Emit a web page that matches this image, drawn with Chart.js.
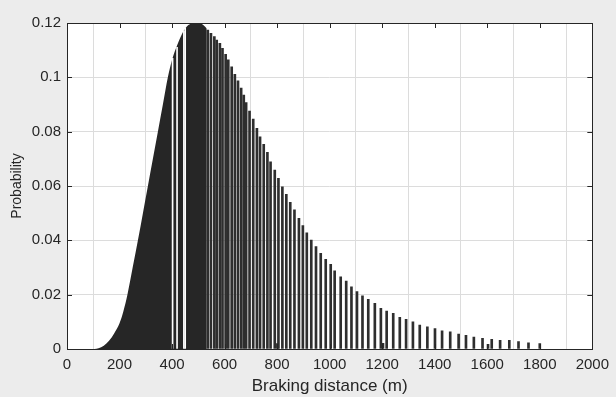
<!DOCTYPE html>
<html>
<head>
<meta charset="utf-8">
<script src="https://cdn.jsdelivr.net/npm/chart.js@4.4.1/dist/chart.umd.min.js"></script>
<style>
  html, body { margin: 0; padding: 0; background: #ececec; }
</style>
</head>
<body>
<canvas id="chart" width="616" height="397"></canvas>
<script>
const xTicks = [0, 200, 400, 600, 800, 1000, 1200, 1400, 1600, 1800, 2000]
const yTicks = [0, 0.02, 0.04, 0.06, 0.08, 0.1, 0.12]

// the solid black block on the left (outline of its top)
const denseDistance = [105, 120, 140, 160, 180, 200, 215, 230, 250, 270, 289, 308, 327, 346, 365, 384, 400, 415, 436, 457, 478, 490, 505, 520, 532]
const denseProb = [0, 0.0003, 0.0012, 0.0030, 0.0058, 0.0095, 0.0140, 0.0200, 0.0300, 0.0400, 0.0500, 0.0600, 0.0700, 0.0800, 0.0900, 0.1000, 0.1065, 0.1107, 0.1156, 0.1188, 0.1198, 0.1199, 0.1199, 0.1192, 0.1180]

// thin white slits inside the block
const gapDistance = [402, 419, 445, 450]
const gapProb = [0.107, 0.111, 0.117, 0.118]

// separate stems to the right
const stemDistance = [536, 548, 561, 570, 582, 592, 604, 614, 627, 639, 651, 663, 673, 682, 695, 709, 723, 735, 749, 763, 775, 791, 801, 805, 820, 835, 850, 866, 883, 898, 913, 930, 948, 966, 985, 1004, 1019, 1042, 1063, 1083, 1104, 1125, 1147, 1172, 1195, 1203, 1217, 1242, 1267, 1291, 1317, 1343, 1372, 1401, 1428, 1459, 1491, 1519, 1549, 1582, 1603, 1617, 1649, 1684, 1719, 1757, 1800]
const stemProb = [0.1174, 0.1162, 0.1150, 0.1137, 0.1125, 0.1107, 0.1085, 0.1064, 0.1039, 0.1011, 0.0987, 0.0960, 0.0935, 0.0907, 0.0876, 0.0846, 0.0812, 0.0781, 0.0753, 0.0724, 0.0689, 0.0659, 0.0020, 0.0628, 0.0597, 0.0569, 0.0540, 0.0512, 0.0481, 0.0454, 0.0428, 0.0401, 0.0377, 0.0352, 0.0330, 0.0312, 0.0288, 0.0266, 0.0250, 0.0229, 0.0211, 0.0196, 0.0183, 0.0168, 0.0150, 0.0021, 0.0140, 0.0131, 0.0117, 0.0109, 0.0100, 0.0088, 0.0082, 0.0075, 0.0067, 0.0063, 0.0055, 0.0050, 0.0044, 0.0039, 0.0017, 0.0036, 0.0032, 0.0032, 0.0027, 0.0023, 0.0020]

const ink = '#262626'
const font = "'Liberation Sans', Arial, sans-serif"

const pts = (xs, ys) => xs.map((x, i) => ({ x: x, y: ys[i] }))

// white plot area, box round it and inward tick marks like matlab
const boxPlugin = {
    id: 'box',
    beforeDraw(chart) {
        const { ctx, chartArea: a } = chart
        ctx.save()
        ctx.fillStyle = '#ffffff'
        ctx.fillRect(a.left, a.top, a.right - a.left, a.bottom - a.top)
        ctx.restore()
    },
    afterDraw(chart) {
        const { ctx, chartArea: a, scales } = chart
        ctx.save()
        ctx.strokeStyle = ink
        ctx.lineWidth = 1
        ctx.beginPath()
        xTicks.forEach(v => {
            const px = Math.round(scales.x.getPixelForValue(v)) + 0.5
            ctx.moveTo(px, a.bottom); ctx.lineTo(px, a.bottom - 5)
            ctx.moveTo(px, a.top); ctx.lineTo(px, a.top + 5)
        })
        yTicks.forEach(v => {
            const py = Math.round(scales.y.getPixelForValue(v)) + 0.5
            ctx.moveTo(a.left, py); ctx.lineTo(a.left + 5, py)
            ctx.moveTo(a.right, py); ctx.lineTo(a.right - 5, py)
        })
        ctx.stroke()
        ctx.strokeRect(Math.round(a.left) + 0.5, Math.round(a.top) + 0.5, Math.round(a.right - a.left), Math.round(a.bottom - a.top))
        ctx.restore()
    }
}

new Chart(document.getElementById('chart'), {
    type: 'bar',
    data: {
        datasets: [
            {
                type: 'bar',
                data: pts(stemDistance, stemProb),
                backgroundColor: '#2e2e2e',
                barThickness: 2,
                grouped: false,
                order: 1
            },
            {
                type: 'bar',
                data: pts(gapDistance, gapProb),
                backgroundColor: '#ffffff',
                barThickness: 1,
                grouped: false,
                order: 2
            },
            {
                type: 'line',
                data: pts(denseDistance, denseProb),
                backgroundColor: ink,
                borderWidth: 0,
                pointRadius: 0,
                fill: 'origin',
                cubicInterpolationMode: 'monotone',
                order: 3
            }
        ]
    },
    options: {
        responsive: false,
        animation: false,
        layout: { padding: { left: 0, top: 23, right: 15, bottom: 0 } },
        plugins: {
            legend: { display: false },
            tooltip: { enabled: false }
        },
        scales: {
            x: {
                type: 'linear',
                min: 0,
                max: 2000,
                offset: false,
                afterBuildTicks: s => { s.ticks = xTicks.map(v => ({ value: v })) },
                afterFit: s => { s.height = 48 },
                grid: { color: '#dcdcdc', drawTicks: false },
                border: { display: false },
                ticks: { color: ink, padding: 7, font: { family: font, size: 15 }, maxRotation: 0, callback: v => String(v) },
                title: { display: true, text: 'Braking distance (m)', color: ink, font: { family: font, size: 17 }, padding: { top: 0, bottom: 0 } }
            },
            y: {
                min: 0,
                max: 0.12,
                afterBuildTicks: s => { s.ticks = yTicks.map(v => ({ value: v })) },
                afterFit: s => { s.width = 67 },
                grid: { color: '#dcdcdc', drawTicks: false },
                border: { display: false },
                ticks: { color: ink, padding: 6, font: { family: font, size: 15 }, callback: v => String(v) },
                title: { display: true, text: 'Probability', color: ink, font: { family: font, size: 14 }, padding: { top: 9, bottom: 0 } }
            }
        }
    },
    plugins: [boxPlugin]
})
</script>
</body>
</html>
